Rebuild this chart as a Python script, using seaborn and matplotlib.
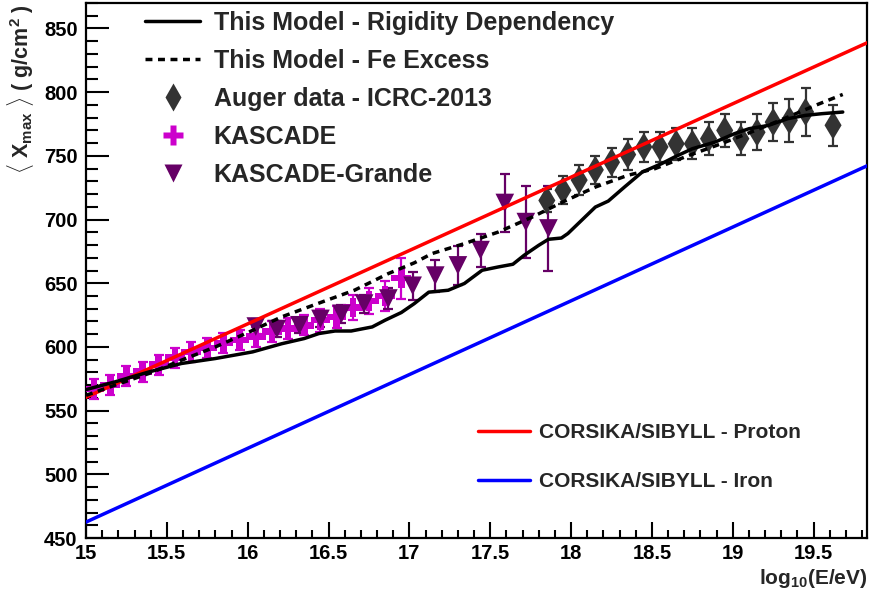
import matplotlib
matplotlib.use("Agg")
import matplotlib.pyplot as plt
import pandas as pd
import seaborn as sns
from matplotlib.lines import Line2D
from matplotlib.ticker import MultipleLocator, FuncFormatter

# ---- simulated reference lines (CORSIKA/SIBYLL) ----
sim_energy = [15.0, 20.0]
proton_xmax = [560.5, 848.5]
iron_xmax = [462.5, 752.0]

# ---- model predictions ----
rigidity_energy = [15.0, 15.18, 15.39, 15.59, 15.80, 16.03, 16.21, 16.35, 16.44, 16.54,
                   16.64, 16.77, 16.85, 16.95, 17.03, 17.12, 17.24, 17.34, 17.45, 17.55,
                   17.64, 17.71, 17.80, 17.86, 17.94, 17.98, 18.15, 18.23, 18.33, 18.44,
                   18.56, 18.64, 18.75, 18.89, 19.01, 19.10, 19.22, 19.34, 19.45, 19.55,
                   19.68]
rigidity_xmax = [566.5, 572.6, 580.4, 587.0, 590.9, 596.1, 602.5, 606.6, 610.5, 612.5,
                 612.5, 615.7, 621.0, 627.0, 634.0, 643.0, 644.5, 649.8, 660.2, 662.8,
                 664.9, 672.0, 679.8, 684.5, 685.5, 689.0, 709.8, 714.5, 725.5, 737.3,
                 743.9, 749.1, 755.6, 760.8, 767.4, 771.3, 773.9, 779.2, 781.8, 783.1,
                 784.4]

fe_energy = [15.0, 15.18, 15.39, 15.59, 15.80, 16.01, 16.21, 16.46, 16.66, 16.87,
             17.03, 17.14, 17.34, 17.55, 17.76, 17.96, 18.15, 18.35, 18.52, 18.73,
             18.93, 19.14, 19.34, 19.51, 19.68]
fe_xmax = [562.0, 570.0, 579.2, 589.6, 600.0, 611.8, 623.6, 635.3, 644.5, 657.6,
           666.0, 673.3, 681.1, 690.2, 702.0, 714.5, 725.5, 734.7, 740.0, 750.4,
           759.6, 770.0, 780.4, 789.6, 798.2]

# ---- measurements ----
auger_energy = [17.85, 17.95, 18.05, 18.15, 18.25, 18.35, 18.45, 18.55, 18.65, 18.75,
                18.85, 18.95, 19.05, 19.15, 19.25, 19.35, 19.45, 19.62]
auger_xmax = [715.0, 723.0, 731.0, 739.0, 745.0, 751.0, 757.0, 757.0, 759.5, 759.5,
              763.5, 770.0, 763.5, 768.5, 776.5, 778.0, 784.5, 774.0]
auger_err = [9, 11, 11.5, 11, 11.5, 12, 12, 12, 12.5, 12,
             13, 13, 13, 14, 15, 17, 19, 16]

kascade_energy = [15.05, 15.15, 15.25, 15.35, 15.45, 15.55, 15.65, 15.75, 15.85, 15.95,
                  16.05, 16.15, 16.25, 16.35, 16.45, 16.55, 16.65, 16.75, 16.85, 16.95]
kascade_xmax = [567.0, 570.0, 577.0, 580.5, 586.0, 591.5, 596.0, 599.0, 603.0, 605.5,
                608.0, 612.0, 614.5, 617.0, 621.0, 623.5, 631.0, 636.0, 640.0, 654.0]
kascade_err = [8, 8, 8, 8, 8, 8, 8, 8, 8, 8,
               8, 8, 8, 8, 9, 9, 10, 10, 12, 16]

grande_energy = [16.05, 16.18, 16.32, 16.45, 16.58, 16.72, 16.87, 17.02, 17.16, 17.30,
                 17.44, 17.59, 17.72, 17.86]
grande_xmax = [616.0, 614.0, 617.0, 622.0, 626.0, 634.0, 638.0, 648.0, 656.0, 664.0,
               676.0, 713.0, 698.0, 693.0]
grande_err = [6, 6, 6, 6, 7, 7, 8, 11, 12.5, 15, 13, 23, 28, 33]

# ---- styling ----
sns.set_style("ticks")
plt.rcParams["font.family"] = ["Liberation Sans", "DejaVu Sans"]
plt.rcParams["font.weight"] = "bold"
plt.rcParams["mathtext.fontset"] = "custom"
plt.rcParams["mathtext.rm"] = "Liberation Sans:bold"
plt.rcParams["mathtext.it"] = "Liberation Sans:bold"
plt.rcParams["mathtext.bf"] = "Liberation Sans:bold"

C_AUGER = "#333333"
C_KASCADE = "#cc00cc"
C_GRANDE = "#660066"
LW = 2.5
DASH = (2.0, 1.6)

fig = plt.figure(figsize=(8.72, 6.04), dpi=100)
W, H = 872, 604
ax = fig.add_axes([86 / W, 1 - 538 / H, (867 - 86) / W, (538 - 3) / H])

sim = pd.DataFrame({"E": sim_energy, "proton": proton_xmax, "iron": iron_xmax})
rig = pd.DataFrame({"E": rigidity_energy, "X": rigidity_xmax})
fe = pd.DataFrame({"E": fe_energy, "X": fe_xmax})
aug = pd.DataFrame({"E": auger_energy, "X": auger_xmax, "err": auger_err})
kas = pd.DataFrame({"E": kascade_energy, "X": kascade_xmax, "err": kascade_err})
gra = pd.DataFrame({"E": grande_energy, "X": grande_xmax, "err": grande_err})

# error bars
for df, col in [(aug, C_AUGER), (kas, C_KASCADE), (gra, C_GRANDE)]:
    ax.errorbar(df["E"], df["X"], yerr=df["err"], fmt="none", ecolor=col,
                elinewidth=1.6, capsize=3.5, capthick=1.6, zorder=2)

# markers
sns.scatterplot(data=aug, x="E", y="X", ax=ax, marker="d", s=210, color=C_AUGER,
                edgecolor="none", linewidth=0, zorder=3, legend=False)
sns.scatterplot(data=kas, x="E", y="X", ax=ax, marker="P", s=200, color=C_KASCADE,
                edgecolor="none", linewidth=0, zorder=3, legend=False)
sns.scatterplot(data=gra, x="E", y="X", ax=ax, marker="v", s=180, color=C_GRANDE,
                edgecolor="none", linewidth=0, zorder=3, legend=False)

# lines
sns.lineplot(data=sim, x="E", y="proton", ax=ax, color="#ff0000", lw=LW, zorder=4)
sns.lineplot(data=sim, x="E", y="iron", ax=ax, color="#0000ff", lw=LW, zorder=4)
sns.lineplot(data=rig, x="E", y="X", ax=ax, color="black", lw=LW, zorder=4,
             estimator=None, sort=False)
fe_line = sns.lineplot(data=fe, x="E", y="X", ax=ax, color="black", lw=LW, zorder=4,
                       estimator=None, sort=False)
fe_line.lines[-1].set_dashes(DASH)

ax.set_xlim(15.0, 19.83)
ax.set_ylim(450, 870)
ax.set_xlabel("")
ax.set_ylabel("")

ax.xaxis.set_major_locator(MultipleLocator(0.5))
ax.xaxis.set_minor_locator(MultipleLocator(0.1))
ax.yaxis.set_major_locator(MultipleLocator(50))
ax.yaxis.set_minor_locator(MultipleLocator(10))
ax.xaxis.set_major_formatter(FuncFormatter(lambda v, p: f"{v:g}"))
ax.yaxis.set_major_formatter(FuncFormatter(lambda v, p: f"{v:g}"))

for s in ax.spines.values():
    s.set_linewidth(1.6)
    s.set_color("black")
ax.tick_params(axis="both", which="both", direction="in", top=False, right=False,
               width=1.5, colors="black")
ax.tick_params(axis="x", which="major", length=11.5, pad=4, labelsize=14.5)
ax.tick_params(axis="x", which="minor", length=5.5)
ax.tick_params(axis="y", which="major", length=16.5, pad=6, labelsize=14.5)
ax.tick_params(axis="y", which="minor", length=8.5)
for lab in ax.get_xticklabels() + ax.get_yticklabels():
    lab.set_fontweight("bold")

fig.text(20 / W, 1 - 4 / H, r"$\langle$ X$_{max}$ $\rangle$ ( g/cm$^{2}$ )",
         rotation=90, ha="center", va="top", fontsize=15.5, fontweight="bold")
fig.text(868 / W, 1 - 578 / H, r"log$_{10}$(E/eV)", ha="right", va="center",
         fontsize=15, fontweight="bold")

# legends
h_top = [
    Line2D([], [], color="black", lw=LW),
    Line2D([], [], color="black", lw=LW, dashes=DASH),
    Line2D([], [], ls="none", marker="d", ms=14, color=C_AUGER, mec="none"),
    Line2D([], [], ls="none", marker="P", ms=14, color=C_KASCADE, mec="none"),
    Line2D([], [], ls="none", marker="v", ms=13.5, color=C_GRANDE, mec="none"),
]
l_top = ["This Model - Rigidity Dependency", "This Model - Fe Excess",
         "Auger data - ICRC-2013", "KASCADE", "KASCADE-Grande"]
leg1 = fig.legend(h_top, l_top, loc="upper left", bbox_to_anchor=(145 / W, 1 - 11 / H),
                  frameon=False, prop={"size": 18, "weight": "bold"},
                  handlelength=2.2, handletextpad=0.55, labelspacing=0.56,
                  borderpad=0, borderaxespad=0)

h_bot = [Line2D([], [], color="#ff0000", lw=LW), Line2D([], [], color="#0000ff", lw=LW)]
l_bot = ["CORSIKA/SIBYLL - Proton", "CORSIKA/SIBYLL - Iron"]
leg2 = fig.legend(h_bot, l_bot, loc="upper left", bbox_to_anchor=(478 / W, 1 - 423 / H),
                  frameon=False, prop={"size": 15, "weight": "bold"},
                  handlelength=2.5, handletextpad=0.45, labelspacing=1.45,
                  borderpad=0, borderaxespad=0)

fig.savefig("out.png", dpi=100)
